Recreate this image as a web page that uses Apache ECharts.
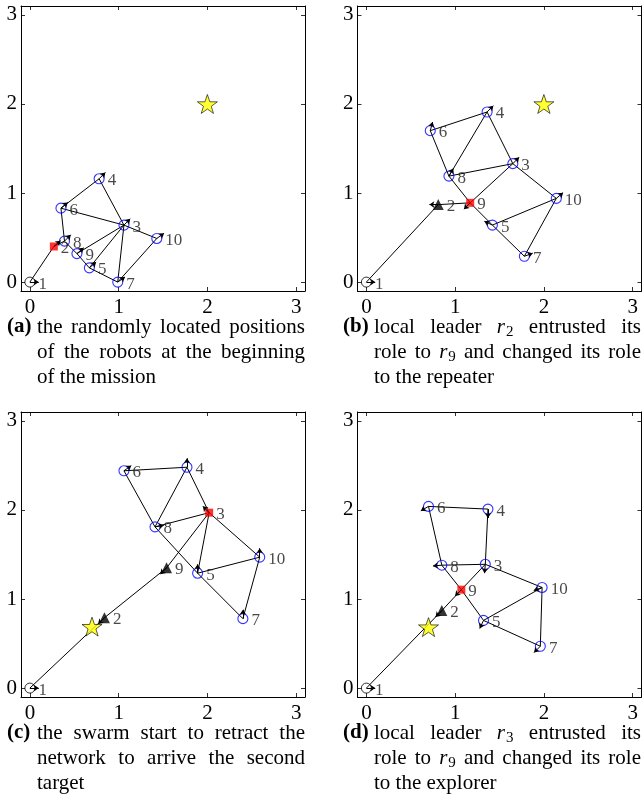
<!DOCTYPE html>
<html>
<head>
<meta charset="utf-8">
<script src="https://cdn.jsdelivr.net/npm/echarts@6.0.0/dist/echarts.min.js"></script>
<style>
  html, body { margin: 0; padding: 0; background: #fff; }
  #main { width: 642px; height: 810px; }
</style>
</head>
<body>
<div id="main"></div>
<script>
// axis ticks shared by all four snapshots
const TICKS = [0, 1, 2, 3];

// robots 1..10 : x, y, heading (deg), links
// (a) start of mission
const xA = [0, 0.27, 1.06, 0.78, 0.67, 0.35, 0.99, 0.39, 0.53, 1.43];
const yA = [0, 0.40, 0.64, 1.16, 0.16, 0.83, 0.00, 0.46, 0.32, 0.49];
const headA = [0, 40, 45, 45, 40, 40, 35, 45, 40, 35];
const edgesA = [[1,2],[2,8],[8,9],[6,8],[6,4],[6,3],[4,3],[3,10],[3,9],[3,5],[3,7],[10,7],[9,5],[5,7]];
const leaderA = 2;
const repeatersA = [];
const targetA = [2.0, 2.0];

// (b) r2 -> repeater, r9 leader
const xB = [0, 0.81, 1.65, 1.36, 1.42, 0.72, 1.78, 0.93, 1.17, 2.14];
const yB = [0, 0.87, 1.33, 1.91, 0.64, 1.70, 0.29, 1.19, 0.89, 0.94];
const headB = [0, 180, 45, 45, 155, 75, 20, 60, 225, 40];
const edgesB = [[1,2],[2,9],[9,8],[9,3],[9,5],[8,6],[8,4],[8,3],[6,4],[4,3],[3,10],[10,5],[10,7],[5,7]];
const leaderB = 9;
const repeatersB = [2];
const targetB = [2.0, 2.0];

// (c) retracting towards second target
const xC = [0, 0.84, 2.02, 1.77, 1.89, 1.06, 2.40, 1.41, 1.54, 2.59];
const yC = [0, 0.79, 1.97, 2.48, 1.29, 2.44, 0.78, 1.81, 1.35, 1.47];
const headC = [0, 225, 135, 90, 90, 35, 90, 10, 225, 90];
const edgesC = [[1,2],[2,9],[9,3],[3,8],[3,4],[3,5],[3,10],[8,6],[8,4],[6,4],[8,5],[5,7],[10,5],[10,7]];
const leaderC = 3;
const repeatersC = [2, 9];
const targetC = [0.70, 0.69];

// (d) r3 -> explorer, r9 leader
const xD = [0, 0.85, 1.34, 1.37, 1.32, 0.70, 1.96, 0.85, 1.07, 1.98];
const yD = [0, 0.87, 1.39, 2.01, 0.76, 2.04, 0.47, 1.38, 1.105, 1.13];
const headD = [0, 225, 265, 270, 245, 210, 225, 185, 225, 200];
const edgesD = [[1,2],[2,9],[9,8],[9,3],[9,5],[8,6],[8,3],[6,4],[4,3],[3,10],[10,5],[10,7],[5,7]];
const leaderD = 9;
const repeatersD = [2];
const targetD = [0.70, 0.685];

// captions ($r_N = math r with subscript)
const captionA = { tag: '(a)', lines: [['the','randomly','located','positions'], ['of','the','robots','at','the','beginning'], ['of','the','mission']] };
const captionB = { tag: '(b)', lines: [['local','leader','$r_2','entrusted','its'], ['role','to','$r_9','and','changed','its','role'], ['to','the','repeater']] };
const captionC = { tag: '(c)', lines: [['the','swarm','start','to','retract','the'], ['network','to','arrive','the','second'], ['target']] };
const captionD = { tag: '(d)', lines: [['local','leader','$r_3','entrusted','its'], ['role','to','$r_9','and','changed','its','role'], ['to','the','explorer']] };

const PANELS = [
  { x: xA, y: yA, head: headA, edges: edgesA, leader: leaderA, repeaters: repeatersA, target: targetA, caption: captionA },
  { x: xB, y: yB, head: headB, edges: edgesB, leader: leaderB, repeaters: repeatersB, target: targetB, caption: captionB },
  { x: xC, y: yC, head: headC, edges: edgesC, leader: leaderC, repeaters: repeatersC, target: targetC, caption: captionC },
  { x: xD, y: yD, head: headD, edges: edgesD, leader: leaderD, repeaters: repeatersD, target: targetD, caption: captionD }
];

const SERIF = 'Liberation Serif';
const ARROW_LEN = 0.1;
const STAR = 'path://M50,0 L61.8,35.1 L98.1,35.1 L68.8,56.7 L79.4,91 L50,70 L20.6,91 L31.2,56.7 L1.9,35.1 L38.2,35.1 Z';

// layout of the four boxes and their captions
const GRIDS = [
  { left: 21, top: 6, width: 284, height: 285 },
  { left: 357.5, top: 6, width: 284, height: 285 },
  { left: 21, top: 412, width: 284, height: 285 },
  { left: 357.5, top: 412, width: 284, height: 285 }
];
const CAPS = [
  { tagX: 7, x0: 37, x1: 305, y0: 327 },
  { tagX: 343, x0: 374, x1: 641, y0: 327 },
  { tagX: 7, x0: 37, x1: 305, y0: 733 },
  { tagX: 343, x0: 374, x1: 641, y0: 733 }
];
const CAP_SIZE = 21, SUB_SIZE = 15, CAP_STEP = 25;

const ctx = document.createElement('canvas').getContext('2d');
function textWidth(s, size, fstyle, weight) {
  ctx.font = (fstyle || 'normal') + ' ' + (weight || 'normal') + ' ' + size + 'px "' + SERIF + '"';
  return ctx.measureText(s).width;
}
function txt(s, x, y, extra) {
  return {
    type: 'text', x: x, y: y, silent: true,
    style: Object.assign({
      text: s, fontFamily: SERIF, fontSize: CAP_SIZE, fill: '#000',
      textVerticalAlign: 'middle', verticalAlign: 'middle', textAlign: 'left', align: 'left'
    }, extra || {})
  };
}
function tokenWidth(tok) {
  if (tok[0] === '$') return textWidth('r', CAP_SIZE, 'italic') + 1 + textWidth(tok.slice(3), SUB_SIZE);
  return textWidth(tok, CAP_SIZE);
}
function tokenElems(tok, x, y) {
  if (tok[0] === '$') {
    const rw = textWidth('r', CAP_SIZE, 'italic');
    return [txt('r', x, y, { fontStyle: 'italic' }), txt(tok.slice(3), x + rw + 1, y + 5, { fontSize: SUB_SIZE })];
  }
  return [txt(tok, x, y)];
}
function captionElems(cap, c) {
  const els = [txt(cap.tag, c.tagX, c.y0, { fontWeight: 'bold' })];
  cap.lines.forEach(function (words, i) {
    const y = c.y0 + i * CAP_STEP;
    const widths = words.map(tokenWidth);
    const total = widths.reduce(function (a, b) { return a + b; }, 0);
    const last = i === cap.lines.length - 1;
    const gap = last ? textWidth(' ', CAP_SIZE) : (c.x1 - c.x0 - total) / (words.length - 1);
    let x = c.x0;
    words.forEach(function (w, k) {
      tokenElems(w, x, y).forEach(function (e) { els.push(e); });
      x += widths[k] + gap;
    });
  });
  return els;
}

function axes(dim, gi) {
  return ['main', 'other'].map(function (kind, k) {
    return {
      type: 'value', gridIndex: gi,
      position: dim === 'x' ? (k === 0 ? 'bottom' : 'top') : (k === 0 ? 'left' : 'right'),
      min: -0.1, max: 3.1,
      axisLine: { show: true, onZero: false, lineStyle: { color: '#000', width: 1 } },
      axisTick: { show: true, inside: true, length: 4, customValues: TICKS, lineStyle: { color: '#000', width: 0.8 } },
      axisLabel: { show: k === 0, customValues: TICKS, fontFamily: SERIF, fontSize: 21, color: '#000', margin: dim === 'x' ? 6 : 4 },
      splitLine: { show: false }
    };
  });
}

const nodeLabel = {
  show: true, position: 'right', distance: 3, offset: [0, 2],
  formatter: function (q) { return q.value[2]; },
  fontFamily: SERIF, fontSize: 17, color: '#1a1a1a'
};

function panelSeries(p, gi) {
  const ax = { xAxisIndex: gi * 2, yAxisIndex: gi * 2 };
  const pt = function (id) { return [p.x[id - 1], p.y[id - 1], id]; };
  const ids = p.x.map(function (_, i) { return i + 1; });
  const blue = ids.filter(function (id) { return id !== 1 && id !== p.leader && p.repeaters.indexOf(id) < 0; });
  const edgeData = p.edges.map(function (e) {
    return { coords: [[p.x[e[0] - 1], p.y[e[0] - 1]], [p.x[e[1] - 1], p.y[e[1] - 1]]] };
  });
  const arrowData = ids.map(function (id) {
    const t = p.head[id - 1] * Math.PI / 180;
    const x = p.x[id - 1], y = p.y[id - 1];
    return { coords: [[x, y], [x + ARROW_LEN * Math.cos(t), y + ARROW_LEN * Math.sin(t)]] };
  });
  const list = [
    Object.assign({ type: 'lines', coordinateSystem: 'cartesian2d', z: 2, silent: true, symbol: 'none',
      lineStyle: { color: '#000', width: 1, opacity: 1 }, data: edgeData }, ax),
    Object.assign({ type: 'scatter', z: 3, symbol: 'circle', symbolSize: 10,
      itemStyle: { color: 'rgba(0,0,0,0)', borderColor: '#0000ff', borderWidth: 1.1 },
      label: nodeLabel, data: blue.map(pt) }, ax),
    Object.assign({ type: 'scatter', z: 3, symbol: 'circle', symbolSize: 10,
      itemStyle: { color: 'rgba(0,0,0,0)', borderColor: '#000', borderWidth: 1 },
      label: nodeLabel, data: [pt(1)] }, ax),
    Object.assign({ type: 'scatter', z: 3, symbol: 'rect', symbolSize: 8,
      itemStyle: { color: '#ff0000' }, label: nodeLabel, data: [pt(p.leader)] }, ax),
    Object.assign({ type: 'lines', coordinateSystem: 'cartesian2d', z: 4, silent: true,
      symbol: ['none', 'arrow'], symbolSize: 5,
      lineStyle: { color: '#000', width: 1, opacity: 1 }, data: arrowData }, ax),
    Object.assign({ type: 'scatter', z: 5, symbol: STAR, symbolKeepAspect: true, symbolSize: 20,
      itemStyle: { color: '#ffff00', borderColor: '#000', borderWidth: 0.8 }, data: [p.target] }, ax)
  ];
  if (p.repeaters.length) {
    list.push(Object.assign({ type: 'scatter', z: 4, symbol: 'triangle', symbolSize: 11,
      itemStyle: { color: '#000' }, label: nodeLabel, data: p.repeaters.map(pt) }, ax));
  }
  return list;
}

let xAxis = [], yAxis = [], series = [], graphic = [];
PANELS.forEach(function (p, gi) {
  xAxis = xAxis.concat(axes('x', gi));
  yAxis = yAxis.concat(axes('y', gi));
  series = series.concat(panelSeries(p, gi));
  graphic = graphic.concat(captionElems(p.caption, CAPS[gi]));
});

const chart = echarts.init(document.getElementById('main'));
chart.setOption({
  animation: false,
  backgroundColor: '#fff',
  grid: GRIDS,
  xAxis: xAxis,
  yAxis: yAxis,
  series: series,
  graphic: graphic
});
</script>
</body>
</html>
